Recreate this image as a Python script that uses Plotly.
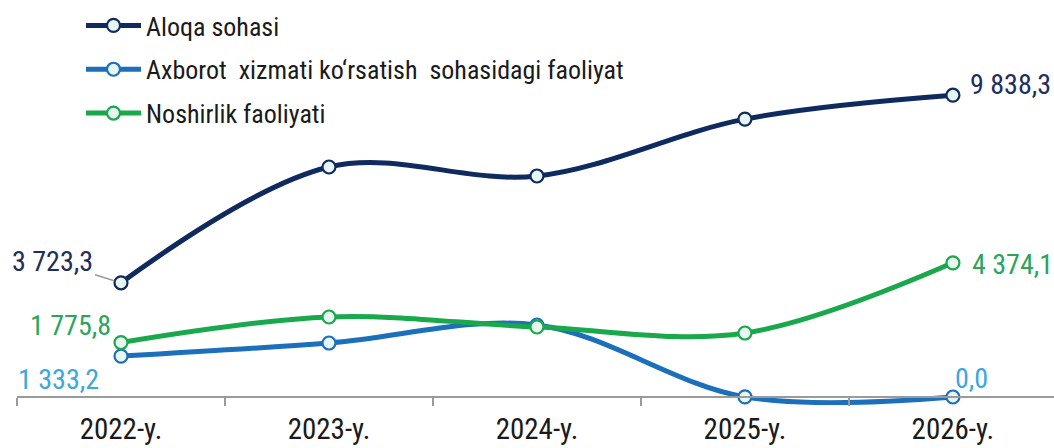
import plotly.graph_objects as go

years = ["2022-y.", "2023-y.", "2024-y.", "2025-y.", "2026-y."]
series_names = ["Aloqa sohasi",
                "Axborot  xizmati ko\u2018rsatish  sohasidagi faoliyat",
                "Noshirlik faoliyati"]
aloqa = [3723.3, 7498, 7205, 9060, 9838.3]
axborot = [1333.2, 1760, 2347, 5, 0.0]
noshirlik = [1775.8, 2608, 2282, 2086, 4374.1]

line_colors = ["#0f2a5e", "#1c6fba", "#19a84c"]
label_colors = ["#1f2d5c", "#3aa8dc", "#2aa55a"]
marker_fill = "#e8f6f2"

FONT = "Liberation Sans Narrow, Roboto Condensed, DejaVu Sans Condensed, Roboto, sans-serif"
LBL = 28

fig = go.Figure()
for name, vals, col in zip(series_names, [aloqa, axborot, noshirlik], line_colors):
    fig.add_trace(go.Scatter(
        x=years, y=vals, name=name, mode="lines+markers",
        line=dict(color=col, width=5, shape="spline", smoothing=1),
        marker=dict(size=13, color=marker_fill, line=dict(color=col, width=2.2)),
        legendgroup=name, cliponaxis=False,
    ))

def fmt(v):
    return f"{v:,.1f}".replace(",", " ").replace(".", ",")

annotations = []
annotations.append(dict(x=years[0], y=aloqa[0], xref="x", yref="y", text=fmt(aloqa[0]),
                        showarrow=True, arrowhead=0, arrowwidth=1.5, arrowcolor="#9a9a9a",
                        ax=-68, ay=-21, standoff=7,
                        font=dict(family=FONT, size=LBL, color=label_colors[0])))
annotations.append(dict(x=years[0], y=noshirlik[0], xref="x", yref="y", text=fmt(noshirlik[0]),
                        showarrow=False, xanchor="right", yanchor="middle", xshift=-8, yshift=17,
                        font=dict(family=FONT, size=LBL, color=label_colors[2])))
annotations.append(dict(x=years[0], y=axborot[0], xref="x", yref="y", text=fmt(axborot[0]),
                        showarrow=False, xanchor="right", yanchor="middle", xshift=-20, yshift=-23,
                        font=dict(family=FONT, size=LBL, color=label_colors[1])))
annotations.append(dict(x=years[-1], y=aloqa[-1], xref="x", yref="y", text=fmt(aloqa[-1]),
                        showarrow=False, xanchor="left", yanchor="middle", xshift=15, yshift=11,
                        font=dict(family=FONT, size=LBL, color=label_colors[0])))
annotations.append(dict(x=years[-1], y=noshirlik[-1], xref="x", yref="y", text=fmt(noshirlik[-1]),
                        showarrow=False, xanchor="left", yanchor="middle", xshift=17, yshift=-2,
                        font=dict(family=FONT, size=LBL, color=label_colors[2])))
annotations.append(dict(x=years[-1], y=axborot[-1], xref="x", yref="y", text=fmt(axborot[-1]),
                        showarrow=False, xanchor="left", yanchor="middle", xshift=0, yshift=19,
                        font=dict(family=FONT, size=LBL, color=label_colors[1])))

plot_h = 405
ymin, ymax = -8 * 32.6, (plot_h - 8) * 32.6
zero_pos = (0 - ymin) / (ymax - ymin)

fig.update_layout(
    width=1054, height=448,
    margin=dict(l=17, r=0, t=0, b=43),
    paper_bgcolor="white", plot_bgcolor="white",
    font=dict(family=FONT, color="#1a1a1a"),
    showlegend=True,
    legend=dict(x=(81 - 17) / 1037, y=0.995, xanchor="left", yanchor="top",
                font=dict(family=FONT, size=26, color="#1a1a1a"),
                tracegroupgap=7, itemwidth=55, bgcolor="rgba(0,0,0,0)"),
    xaxis=dict(type="category", range=[-0.5, 4.486], anchor="free", position=zero_pos,
               showline=True, linecolor="#9a9a9a", linewidth=2,
               ticks="outside", tickson="boundaries", ticklen=8, tickcolor="#9a9a9a", tickwidth=2,
               ticklabelstandoff=6,
               showgrid=False, zeroline=False,
               tickfont=dict(family=FONT, size=29, color="#1a1a1a"), automargin=False),
    yaxis=dict(range=[ymin, ymax], visible=False, showgrid=False, zeroline=False),
    annotations=annotations,
)

fig.write_html("out.html", config={"displayModeBar": False},
               post_script="document.body.style.margin='0';document.body.style.overflow='hidden';")
